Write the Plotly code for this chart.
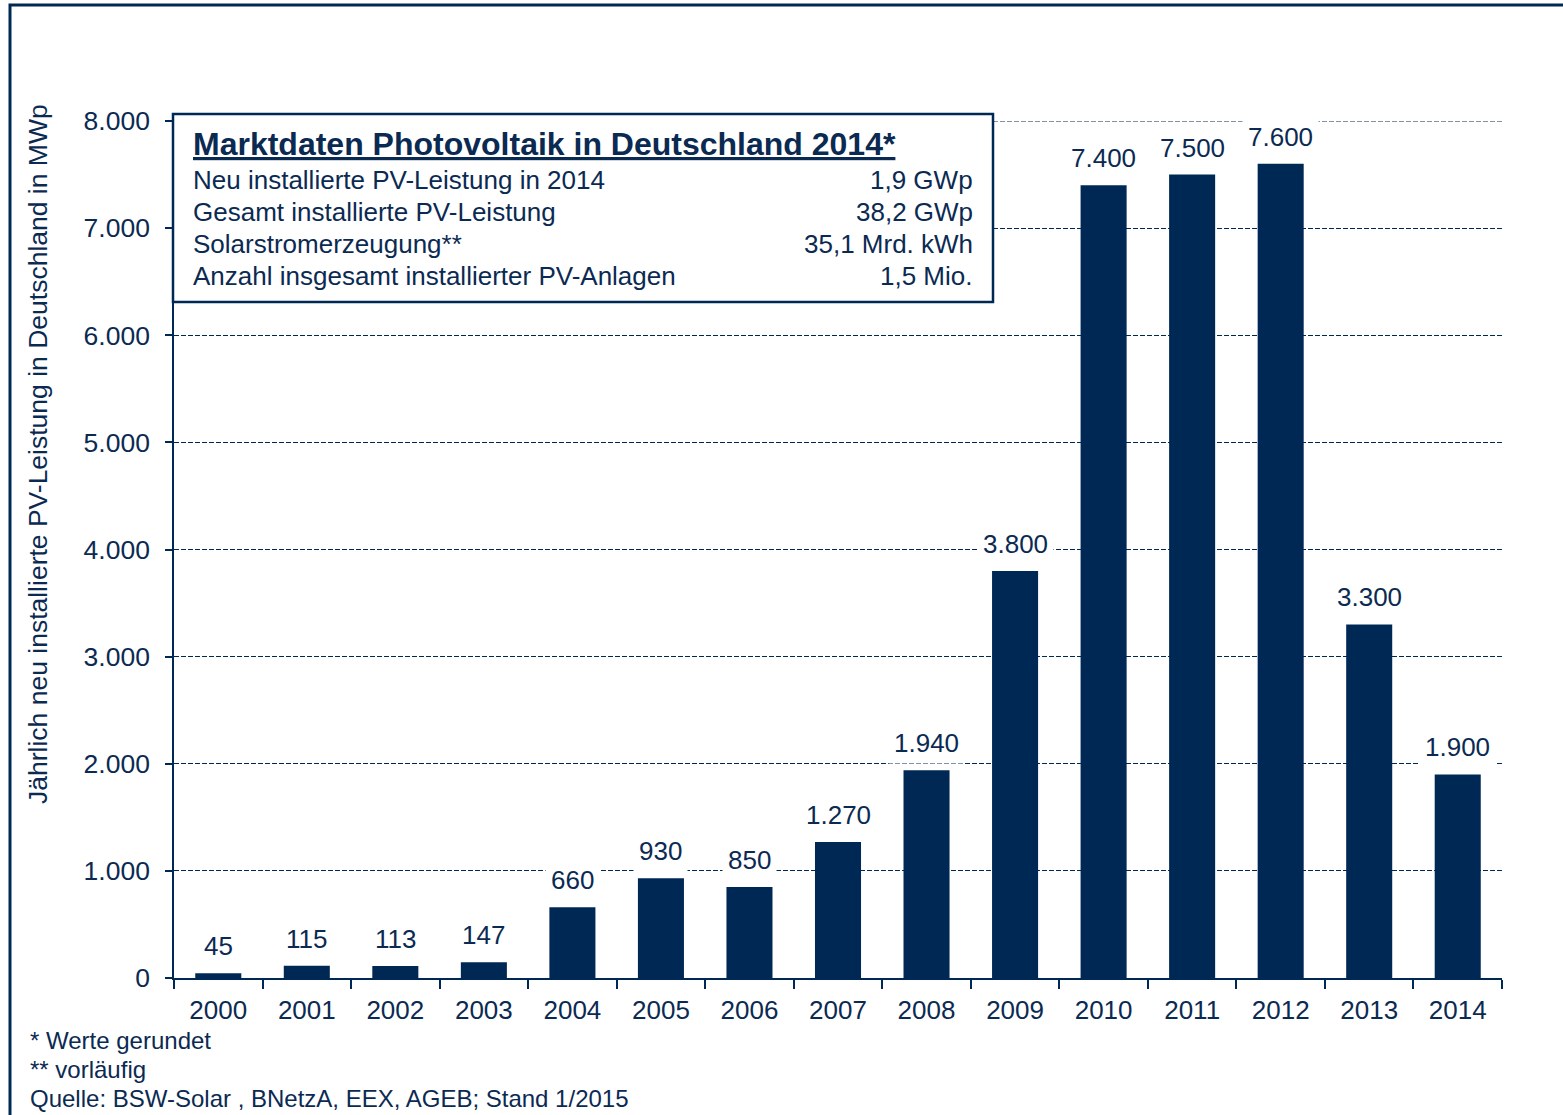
import plotly.graph_objects as go

# ---- data ----
years = ["2000", "2001", "2002", "2003", "2004", "2005", "2006", "2007",
         "2008", "2009", "2010", "2011", "2012", "2013", "2014"]
new_mwp = [45, 115, 113, 147, 660, 930, 850, 1270, 1940, 3800, 7400, 7500, 7600, 3300, 1900]
y_ticks = [0, 1000, 2000, 3000, 4000, 5000, 6000, 7000, 8000]

box_title = "Marktdaten Photovoltaik in Deutschland 2014*"
box_labels = ["Neu installierte PV-Leistung in 2014", "Gesamt installierte PV-Leistung",
              "Solarstromerzeugung**", "Anzahl insgesamt installierter PV-Anlagen"]
box_values = ["1,9 GWp", "38,2 GWp", "35,1 Mrd. kWh", "1,5 Mio."]
footnotes = ["* Werte gerundet", "** vorläufig", "Quelle: BSW-Solar , BNetzA, EEX, AGEB; Stand 1/2015"]
y_title = "Jährlich neu installierte PV-Leistung in Deutschland in MWp"

NAVY = "#002855"
TXT = "#0B2A52"
FONT = "Liberation Sans, Arial, sans-serif"
DASH = "5px,2px"

W, H = 1563, 1115
L, R, T, B = 174, 1502, 121, 978  # plot area in px


def px(x):
    return (x - L) / (R - L)


def py(y):
    return (B - y) / (B - T)


def de(v):
    return f"{v:,}".replace(",", ".")


fig = go.Figure()
fig.add_trace(go.Bar(x=years, y=new_mwp, marker=dict(color=NAVY, line=dict(width=0)),
                     hoverinfo="x+y"))

annotations = []
for i, v in enumerate(new_mwp):
    annotations.append(dict(x=i, y=v, xref="x", yref="y", text=de(v), showarrow=False,
                            yshift=27, bgcolor="white", borderpad=5,
                            font=dict(family=FONT, size=26, color=TXT)))

# info box
annotations.append(dict(x=px(191), y=py(144), xref="paper", yref="paper", xanchor="left",
                        yanchor="middle", text=f"<b><u>{box_title}</u></b>", showarrow=False,
                        font=dict(family=FONT, size=32, color=TXT)))
for i, (lab, val) in enumerate(zip(box_labels, box_values)):
    yy = py(180 + 32 * i)
    annotations.append(dict(x=px(191), y=yy, xref="paper", yref="paper", xanchor="left",
                            yanchor="middle", text=lab, showarrow=False,
                            font=dict(family=FONT, size=26, color=TXT)))
    annotations.append(dict(x=px(975), y=yy, xref="paper", yref="paper", xanchor="right",
                            yanchor="middle", text=val, showarrow=False,
                            font=dict(family=FONT, size=26, color=TXT)))

# y title
annotations.append(dict(x=px(38), y=py(454), xref="paper", yref="paper", xanchor="center",
                        yanchor="middle", text=y_title, textangle=-90, showarrow=False,
                        font=dict(family=FONT, size=26.5, color=TXT)))

for i, t in enumerate(footnotes):
    annotations.append(dict(x=px(28), y=py(1040 + 29 * i), xref="paper", yref="paper",
                            xanchor="left", yanchor="middle", text=t, showarrow=False,
                            font=dict(family=FONT, size=24, color=TXT)))

shapes = [
    dict(type="line", xref="paper", yref="y", x0=0, x1=1, y0=y_ticks[-1], y1=y_ticks[-1],
         line=dict(color=NAVY, width=1.2, dash=DASH), layer="below"),
    dict(type="rect", xref="paper", yref="paper", x0=px(173), x1=px(993), y0=py(302), y1=py(114),
         line=dict(color=NAVY, width=2.5), fillcolor="white", layer="above"),
    dict(type="rect", xref="paper", yref="paper", x0=px(10), x1=px(1600), y0=py(1200), y1=py(5),
         line=dict(color=NAVY, width=3), fillcolor="rgba(0,0,0,0)", layer="above"),
]

fig.update_layout(
    width=W, height=H,
    margin=dict(l=L, r=W - R, t=T, b=H - B, pad=0),
    paper_bgcolor="white", plot_bgcolor="white",
    separators=",.",
    bargap=0.48,
    showlegend=False,
    font=dict(family=FONT, color=TXT),
    annotations=annotations,
    shapes=shapes,
)
fig.update_xaxes(type="category", tickson="boundaries", ticks="outside", ticklen=9,
                 tickcolor=NAVY, tickwidth=1.5, showline=True, linecolor=NAVY, linewidth=1.5,
                 showgrid=False, tickfont=dict(family=FONT, size=26, color=TXT),
                 ticklabelstandoff=8, tickangle=0)
fig.update_yaxes(range=[0, 8000], tickvals=y_ticks, tickformat=",d", ticks="outside",
                 ticklen=7, tickcolor=NAVY, tickwidth=1.5, showline=True, linecolor=NAVY,
                 linewidth=1.5, showgrid=True, gridcolor=NAVY, gridwidth=1.2, griddash=DASH,
                 zeroline=False, tickfont=dict(family=FONT, size=26.5, color=TXT),
                 ticklabelstandoff=10)

fig.write_html("out.html", config={"displayModeBar": False},
               post_script="document.body.style.margin='0px';document.body.style.overflow='hidden';")
